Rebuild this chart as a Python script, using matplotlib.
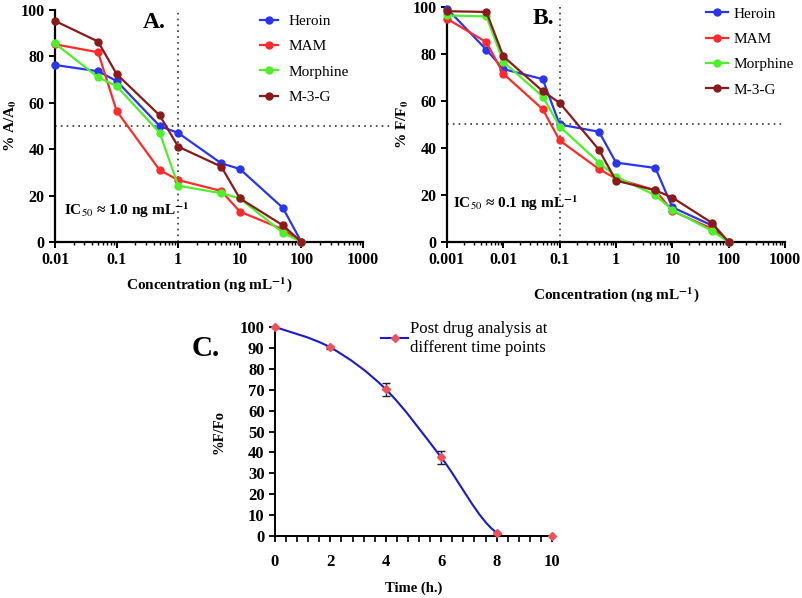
import matplotlib
matplotlib.use("Agg")
import matplotlib.pyplot as plt
import numpy as np
from matplotlib.path import Path
from matplotlib.patches import PathPatch
from matplotlib.ticker import LogLocator, NullFormatter, FixedLocator, FixedFormatter, AutoMinorLocator

plt.rcParams["font.family"] = ["Liberation Serif", "DejaVu Serif"]
plt.rcParams["mathtext.fontset"] = "stix"

# ---- panel A data ----
conc_a = [0.01, 0.05, 0.1, 0.5, 1, 5, 10, 50, 100]
heroin_a = [76.3, 73.6, 69.4, 50.0, 47.0, 33.9, 31.5, 14.7, 0]
mam_a = [85.2, 81.8, 56.5, 31.0, 26.7, 22.0, 13.1, 5.5, 0]
morphine_a = [85.6, 71.0, 67.2, 47.1, 24.3, 21.0, 18.8, 4.0, 0]
m3g_a = [95.3, 86.4, 72.4, 54.6, 41.1, 32.5, 18.8, 7.2, 0]

# ---- panel B data ----
conc_b = [0.001, 0.005, 0.01, 0.05, 0.1, 0.5, 1, 5, 10, 50, 100]
heroin_b = [99.3, 81.8, 73.6, 69.3, 50.0, 46.9, 33.8, 31.5, 14.8, 7.1, 0]
mam_b = [95.0, 85.0, 71.6, 56.5, 43.2, 31.0, 27.0, 22.0, 13.2, 5.7, 0]
morphine_b = [96.4, 96.0, 76.7, 61.9, 49.1, 33.8, 27.8, 19.9, 13.6, 4.8, 0]
m3g_b = [98.2, 97.9, 79.0, 64.2, 59.2, 39.2, 26.1, 22.0, 18.9, 8.2, 0]

# ---- panel C data ----
time_c = [0, 2, 4, 6, 8, 10]
ff0_c = [100, 90.2, 70.2, 37.6, 1.6, 0]
err_c = [0, 0.8, 3.0, 3.0, 0, 0]

names = ["Heroin", "MAM", "Morphine", "M-3-G"]
colors = ["#2a35f0", "#ff2b2b", "#4ef02a", "#8b1a1a"]

fig = plt.figure(figsize=(8.03, 5.98), dpi=100)
W, H = 803.0, 598.0


def ax_at(l, t, r, b):
    return fig.add_axes([l / W, 1 - b / H, (r - l) / W, (b - t) / H])


def style_conc_axis(ax, xmin, xmax, ticks, labels):
    ax.set_xscale("log")
    ax.set_xlim(xmin, xmax)
    ax.set_ylim(0, 100)
    ax.xaxis.set_major_locator(FixedLocator(ticks))
    ax.xaxis.set_major_formatter(FixedFormatter(labels))
    ax.xaxis.set_minor_locator(LogLocator(base=10, subs=np.arange(2, 10)))
    ax.xaxis.set_minor_formatter(NullFormatter())
    ax.set_yticks([0, 20, 40, 60, 80, 100])
    for s in ["top", "right"]:
        ax.spines[s].set_visible(False)
    for s in ["left", "bottom"]:
        ax.spines[s].set_linewidth(1.6)
    ax.tick_params(axis="both", which="major", width=1.4, length=4, labelsize=11.5)
    ax.tick_params(axis="x", which="minor", width=1.0, length=2.5)
    for lbl in ax.get_xticklabels() + ax.get_yticklabels():
        lbl.set_fontweight("bold")


def draw_conc_panel(ax, x, series, xline):
    for ys, name, c in zip(series, names, colors):
        ax.plot(x, ys, "-o", color=c, lw=1.6, ms=5, label=name, clip_on=False, zorder=3)
    ax.axvline(xline, color="#333333", lw=1.2, ls=(0, (1, 2.5)), zorder=1)


# panel A
axA = ax_at(55, 10, 363, 242)
draw_conc_panel(axA, conc_a, [heroin_a, mam_a, morphine_a, m3g_a], 1)
style_conc_axis(axA, 0.01, 1000, [0.01, 0.1, 1, 10, 100, 1000],
                ["0.01", "0.1", "1", "10", "100", "1000"])
axA.plot([0.01, 3000], [50, 50], color="#333333", lw=1.2, ls=(0, (1, 2.5)), clip_on=False, zorder=1)
axA.set_ylabel("% A/A$_\\mathbf{0}$", fontsize=11, fontweight="bold", labelpad=1)
axA.set_xlabel("Concentration (ng mL$^{\\mathbf{-1}}$)", fontsize=11, fontweight="bold", labelpad=5)
axA.text(0.286, 0.99, "A.", transform=axA.transAxes, fontsize=17, fontweight="bold", va="top", ha="left")
axA.text(0.028, 0.095, "IC$_{50}$ \u2248 1.0 ng mL$^{\\mathbf{-1}}$", transform=axA.transAxes,
         fontsize=11, fontweight="bold", va="bottom", ha="left")
axA.legend(loc="upper left", bbox_to_anchor=(0.666, 0.981), frameon=False, fontsize=11,
           handlelength=1.2, labelspacing=0.76, handletextpad=0.65, borderpad=0, borderaxespad=0)

# panel B
axB = ax_at(447, 7, 785, 242)
draw_conc_panel(axB, conc_b, [heroin_b, mam_b, morphine_b, m3g_b], 0.1)
style_conc_axis(axB, 0.001, 1000, [0.001, 0.01, 0.1, 1, 10, 100, 1000],
                ["0.001", "0.01", "0.1", "1", "10", "100", "1000"])
axB.axhline(50, color="#333333", lw=1.2, ls=(0, (1, 2.5)), zorder=1)
axB.set_ylabel("% F/F$_\\mathbf{0}$", fontsize=11, fontweight="bold", labelpad=1)
axB.set_xlabel("Concentration (ng mL$^{\\mathbf{-1}}$)", fontsize=11, fontweight="bold", labelpad=12)
axB.text(0.254, 0.995, "B.", transform=axB.transAxes, fontsize=17, fontweight="bold", va="top", ha="left")
axB.text(0.018, 0.125, "IC$_{50}$ \u2248 0.1 ng mL$^{\\mathbf{-1}}$", transform=axB.transAxes,
         fontsize=11, fontweight="bold", va="bottom", ha="left")
axB.legend(loc="upper left", bbox_to_anchor=(0.766, 1.0), frameon=False, fontsize=11,
           handlelength=1.45, labelspacing=0.76, handletextpad=0.35, borderpad=0, borderaxespad=0)

# panel C
axC = ax_at(275, 327, 552, 536)
pts = np.column_stack([time_c, ff0_c]).astype(float)
# smooth (Catmull-Rom style) curve through the points, drawn as a Bezier path
verts = [tuple(pts[0])]
codes = [Path.MOVETO]
n = len(pts)
for i in range(n - 1):
    p0 = pts[max(i - 1, 0)]
    p1 = pts[i]
    p2 = pts[i + 1]
    p3 = pts[min(i + 2, n - 1)]
    c1 = p1 + (p2 - p0) / 6.0
    c2 = p2 - (p3 - p1) / 6.0
    verts += [tuple(c1), tuple(c2), tuple(p2)]
    codes += [Path.CURVE4] * 3
axC.add_patch(PathPatch(Path(verts, codes), fill=False, edgecolor="#1a1ad0", lw=1.5, zorder=2))
axC.errorbar(time_c, ff0_c, yerr=err_c, fmt="none", ecolor="#222222", elinewidth=1.0,
             capsize=3, capthick=1.0, zorder=3)
axC.plot(time_c, ff0_c, "D", color="#f0505a", ms=4.5, clip_on=False, zorder=4)
axC.plot([], [], "-D", color="#1a1ad0", mfc="#f0505a", mec="#f0505a", ms=4.5, lw=1.5,
         label="Post drug analysis at\ndifferent time points")
axC.set_xlim(0, 10)
axC.set_ylim(0, 100)
axC.set_xticks([0, 2, 4, 6, 8, 10])
axC.set_yticks(np.arange(0, 101, 10))
axC.xaxis.set_minor_locator(AutoMinorLocator(5))
for s in ["top", "right"]:
    axC.spines[s].set_visible(False)
for s in ["left", "bottom"]:
    axC.spines[s].set_linewidth(1.4)
axC.tick_params(axis="both", which="major", width=1.3, length=4, labelsize=12)
axC.tick_params(axis="x", which="major", pad=9)
axC.tick_params(axis="x", which="minor", width=1.2, length=4)
for lbl in axC.get_xticklabels() + axC.get_yticklabels():
    lbl.set_fontweight("bold")
axC.set_ylabel("%F/Fo", fontsize=10.5, fontweight="bold", labelpad=10)
axC.set_xlabel("Time (h.)", fontsize=10.5, fontweight="bold", labelpad=8)
axC.text(-0.3, 0.96, "C.", transform=axC.transAxes, fontsize=21, fontweight="bold", va="top", ha="left")
axC.legend(loc="upper left", bbox_to_anchor=(0.36, 1.06), frameon=False, fontsize=12,
           handlelength=1.6, handletextpad=0.1, borderaxespad=0)

fig.savefig("out.png", dpi=100)
